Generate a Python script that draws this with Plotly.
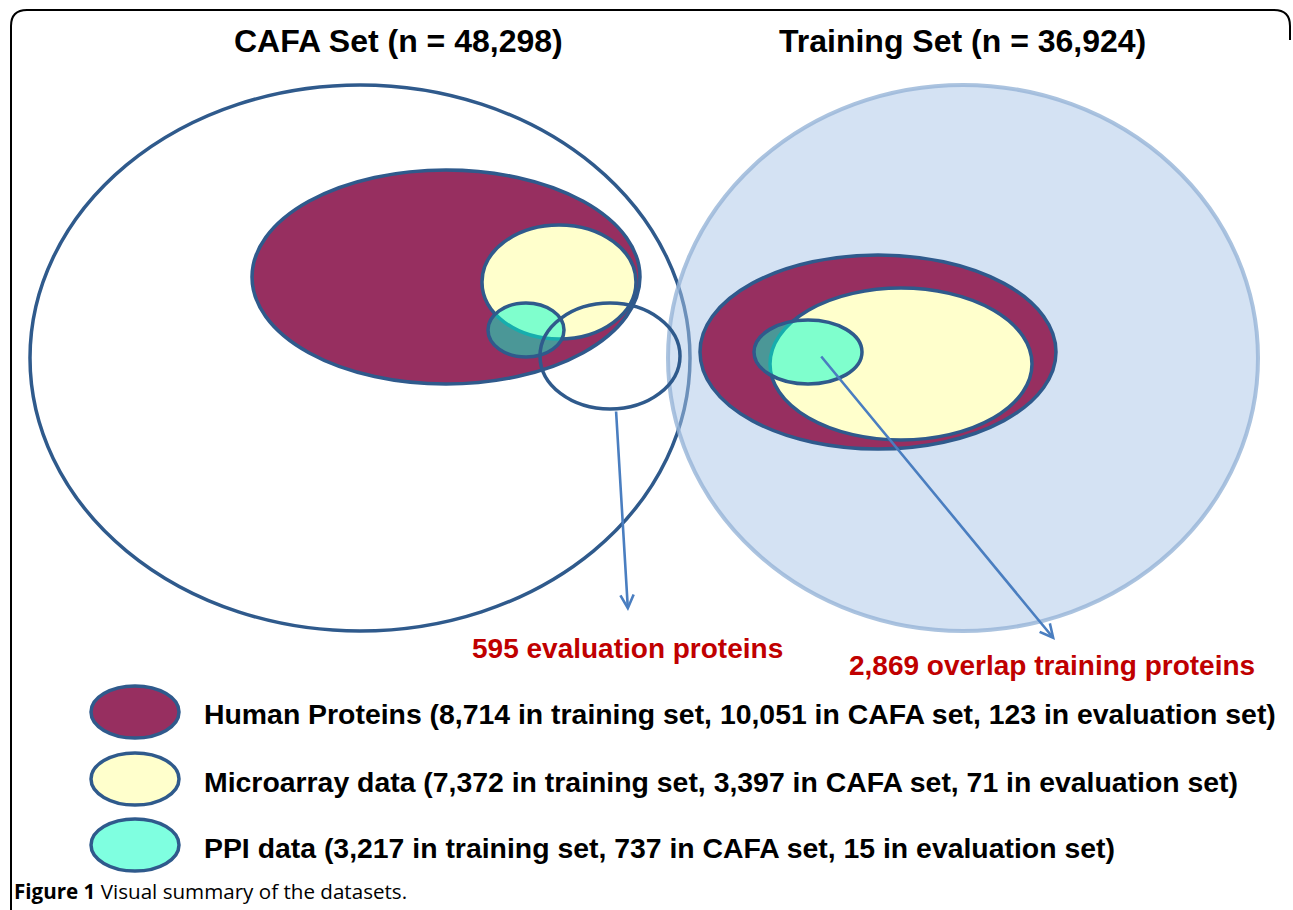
import numpy as np
import plotly.graph_objects as go

W, H = 1293, 910

titles = ["CAFA Set (n = 48,298)", "Training Set (n = 36,924)"]
callouts = ["595 evaluation proteins", "2,869 overlap training proteins"]
legend_labels = [
    "Human Proteins (8,714 in training set, 10,051 in CAFA set, 123 in evaluation set)",
    "Microarray data (7,372 in training set, 3,397 in CAFA set, 71 in evaluation set)",
    "PPI data (3,217 in training set, 737 in CAFA set, 15 in evaluation set)",
]
caption_bold = "Figure 1"
caption_rest = " Visual summary of the datasets."

MAROON = "#972F60"
YELLOW = "#FFFFCC"
PPI = "rgba(0,255,205,0.5)"
PPI_LEG = "#7FFFE0"
EDGE = "#2F5A8C"
RED = "#C00000"
ARROW = "#4A7EC0"

fig = go.Figure()


def ell(cx, cy, rx, ry, fill, line=EDGE, lw=3.5):
    fig.add_shape(type="circle", xref="x", yref="y",
                  x0=cx - rx, x1=cx + rx, y0=cy - ry, y1=cy + ry,
                  fillcolor=fill, line=dict(color=line, width=lw), layer="above")


# frame
r = 16
fig.add_shape(type="path", xref="x", yref="y",
              path=f"M 11 {H} L 11 {10 + r} Q 11 10 {11 + r} 10 L {1290 - r} 10 Q 1290 10 1290 {10 + r} L 1290 40",
              line=dict(color="black", width=2), layer="above")

# left: CAFA set
ell(360, 358, 330, 273, "white")
# right: training set
ell(963, 358, 295, 273, "rgba(170,198,232,0.5)", line="rgba(150,180,215,0.8)", lw=4)

# left inner
ell(446, 277, 194, 107, MAROON)
ell(559, 282, 77, 57, YELLOW)
ell(526, 330, 38, 27, PPI)
ell(610, 356, 70, 53, "rgba(0,0,0,0)")

# right inner
ell(878, 352, 178, 97, MAROON)
ell(901, 364, 131, 76, YELLOW)
ell(808, 352, 54, 32, PPI)

# legend ellipses
leg_fills = [MAROON, YELLOW, PPI_LEG]
leg_y = [712, 779, 845]
text_y = [714, 782, 848]
for f, y in zip(leg_fills, leg_y):
    ell(135, y, 44, 26, f)

annotations = []
for t, x in zip(titles, [398, 962]):
    annotations.append(dict(x=x, y=41, text=f"<b>{t}</b>", showarrow=False,
                            font=dict(family="Liberation Sans", size=32, color="black"),
                            xanchor="center", yanchor="middle"))
for t, x, y in zip(callouts, [627, 1052], [648, 665]):
    annotations.append(dict(x=x, y=y, text=f"<b>{t}</b>", showarrow=False,
                            font=dict(family="Liberation Sans", size=28, color=RED),
                            xanchor="center", yanchor="middle"))
for t, y in zip(legend_labels, text_y):
    annotations.append(dict(x=202, y=y, text=f"<b>{t}</b>", showarrow=False,
                            font=dict(family="Liberation Sans", size=28.4, color="black"),
                            xanchor="left", yanchor="middle"))
annotations.append(dict(x=12, y=891, text=f"<b>{caption_bold}</b>{caption_rest}", showarrow=False,
                        font=dict(family="Open Sans", size=20.6, color="black"),
                        xanchor="left", yanchor="middle"))
# arrows
for (x0, y0, x1, y1) in [(616, 410, 628, 611), (820, 355, 1055, 640)]:
    annotations.append(dict(x=x1, y=y1, ax=x0, ay=y0, xref="x", yref="y", axref="x", ayref="y",
                            text="", showarrow=True, arrowhead=5, arrowsize=1.0,
                            arrowwidth=2.6, arrowcolor=ARROW))

fig.update_layout(
    width=W, height=H, margin=dict(l=0, r=0, t=0, b=0),
    paper_bgcolor="white", plot_bgcolor="white",
    xaxis=dict(range=[0, W], visible=False, fixedrange=True),
    yaxis=dict(range=[H, 0], visible=False, fixedrange=True),
    annotations=annotations, showlegend=False,
)
fig.write_html("out.html", config={"displayModeBar": False},
               post_script="document.body.style.margin='0';")
